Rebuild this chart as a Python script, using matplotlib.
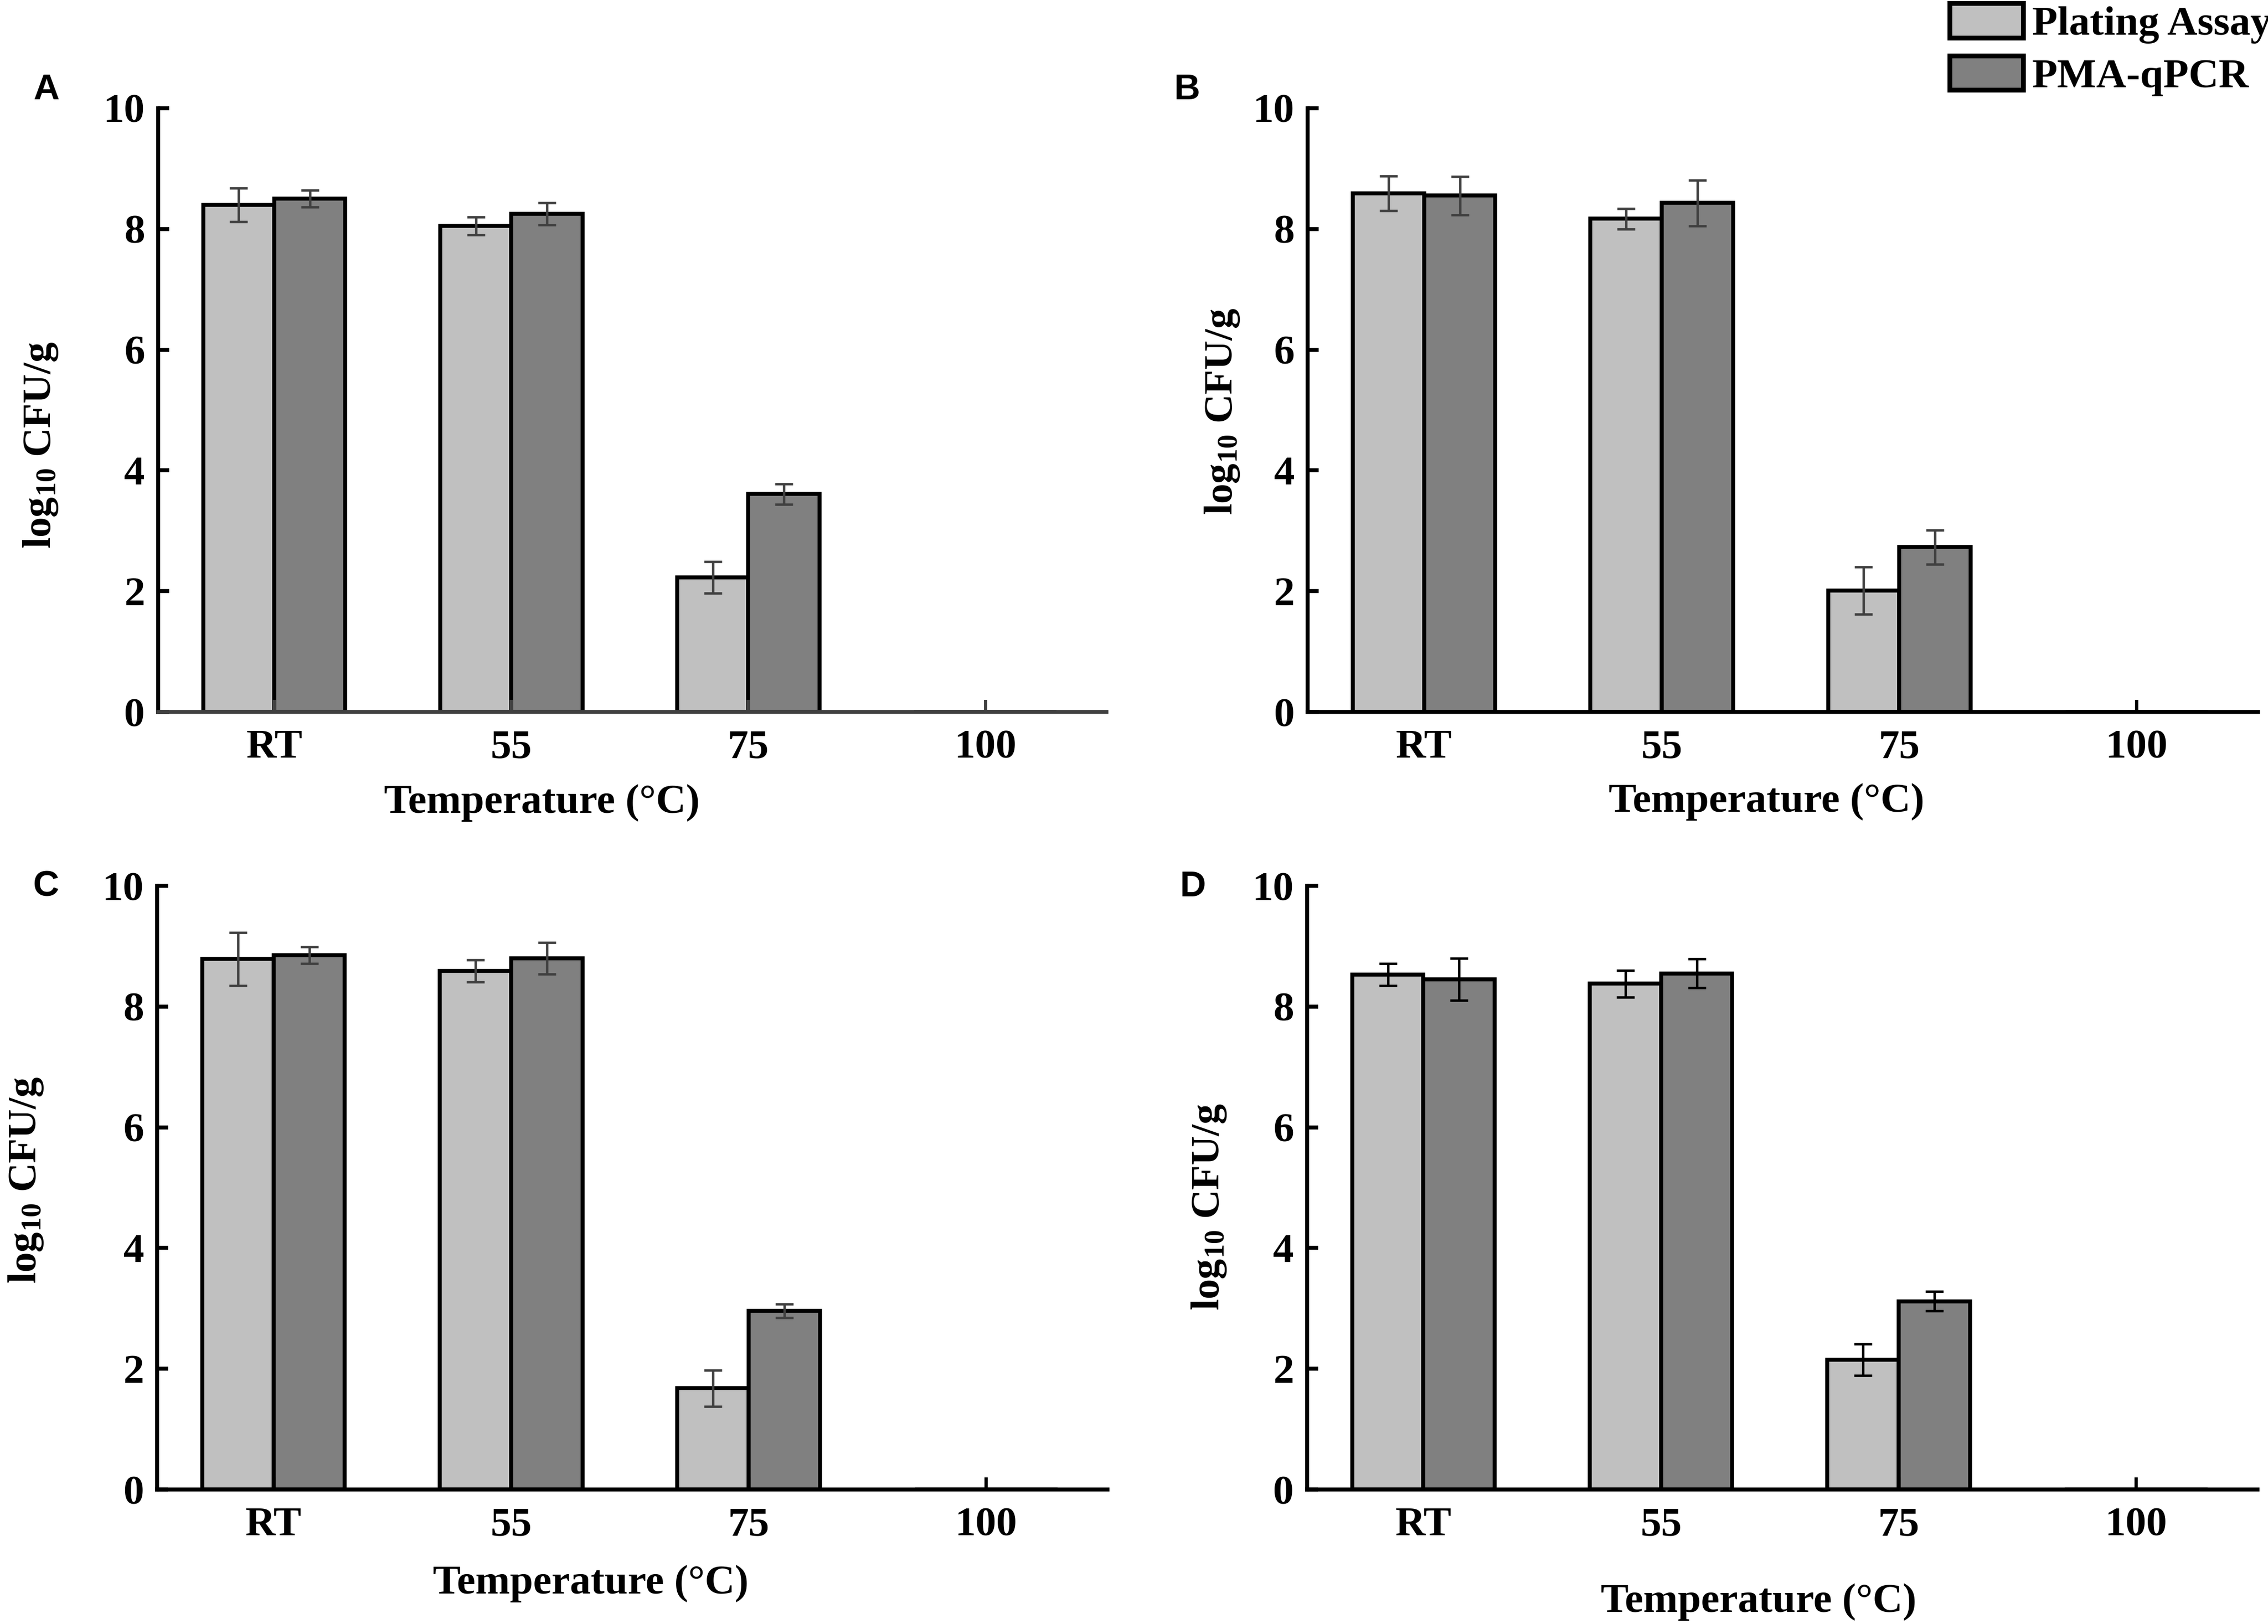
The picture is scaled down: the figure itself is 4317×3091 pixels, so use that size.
import matplotlib
matplotlib.use("Agg")
import matplotlib.pyplot as plt
from matplotlib.patches import Patch
import numpy as np

# categories and series (log10 CFU/g)
temps = ["RT", "55", "75", "100"]

plating_a = [8.40, 8.05, 2.23, 0.0]
plating_a_err = [0.28, 0.15, 0.26, 0.0]
pma_a = [8.50, 8.25, 3.61, 0.0]
pma_a_err = [0.14, 0.18, 0.17, 0.0]

plating_b = [8.59, 8.17, 2.01, 0.0]
plating_b_err = [0.29, 0.17, 0.39, 0.0]
pma_b = [8.55, 8.43, 2.73, 0.0]
pma_b_err = [0.32, 0.38, 0.28, 0.0]

plating_c = [8.79, 8.59, 1.68, 0.0]
plating_c_err = [0.44, 0.18, 0.30, 0.0]
pma_c = [8.85, 8.80, 2.96, 0.0]
pma_c_err = [0.14, 0.26, 0.11, 0.0]

plating_d = [8.53, 8.38, 2.15, 0.0]
plating_d_err = [0.18, 0.22, 0.26, 0.0]
pma_d = [8.45, 8.55, 3.12, 0.0]
pma_d_err = [0.35, 0.24, 0.16, 0.0]

yticks = [0, 2, 4, 6, 8, 10]
series_names = ["Plating Assay", "PMA-qPCR"]

light = "#c0c0c0"
dark = "#808080"
serif = ["Liberation Serif", "DejaVu Serif"]

plt.rcParams["mathtext.fontset"] = "custom"
plt.rcParams["mathtext.rm"] = "Liberation Serif:bold"
plt.rcParams["mathtext.it"] = "Liberation Serif:bold"
plt.rcParams["mathtext.bf"] = "Liberation Serif:bold"

fig = plt.figure(figsize=(4317 / 300, 3091 / 300), dpi=300)

# panel: (rect, data, err colour, x spine colour, xlabel pos, ylabel pos, letter pos)
panels = [
    ([0.0697, 0.5616, 0.4181, 0.3718], plating_a, plating_a_err, pma_a, pma_a_err,
     "#404040", "#404040", (0.405, -0.151), (-0.124, 0.442), ("A", 0.0204, 0.9447)),
    ([0.5766, 0.5616, 0.4190, 0.3718], plating_b, plating_b_err, pma_b, pma_b_err,
     "#404040", "black", (0.483, -0.149), (-0.090, 0.498), ("B", 0.5233, 0.9447)),
    ([0.0693, 0.0828, 0.4190, 0.3717], plating_c, plating_c_err, pma_c, pma_c_err,
     "#404040", "black", (0.456, -0.156), (-0.138, 0.513), ("C", 0.0202, 0.4539)),
    ([0.5763, 0.0828, 0.4190, 0.3717], plating_d, plating_d_err, pma_d, pma_d_err,
     "black", "black", (0.475, -0.186), (-0.103, 0.468), ("D", 0.5258, 0.4539)),
]

x = np.arange(len(temps))
w = 0.30

for rect, p, pe, q, qe, ecol, scol, xl, yl, letter in panels:
    ax = fig.add_axes(rect)
    ekw = dict(ecolor=ecol, elinewidth=1.1, capsize=4, capthick=1.1)
    ax.bar(x - w / 2, p, w, yerr=pe, color=light, edgecolor="black",
           linewidth=1.8, error_kw=ekw)
    ax.bar(x + w / 2, q, w, yerr=qe, color=dark, edgecolor="black",
           linewidth=1.8, error_kw=ekw)
    ax.set_xlim(-0.49, 3.51)
    ax.set_ylim(0, 10)
    ax.set_yticks(yticks)
    ax.set_xticks(x)
    ax.set_xticklabels(temps)
    for s in ["top", "right"]:
        ax.spines[s].set_visible(False)
    ax.spines["left"].set_linewidth(1.8)
    ax.spines["bottom"].set_linewidth(1.8)
    ax.spines["bottom"].set_color(scol)
    ax.tick_params(axis="y", direction="in", length=5, width=1.8, pad=6)
    ax.tick_params(axis="x", direction="in", length=5.5, width=1.5, pad=8,
                   color=scol)
    for lab in ax.get_xticklabels() + ax.get_yticklabels():
        lab.set_fontfamily(serif)
        lab.set_fontweight("bold")
        lab.set_fontsize(19)
    ax.text(xl[0], xl[1], "Temperature (°C)", transform=ax.transAxes,
            ha="center", va="center", fontsize=19, fontweight="bold",
            family=serif)
    ax.text(yl[0], yl[1], r"log$_{10}$ CFU/g", transform=ax.transAxes,
            ha="center", va="center", rotation=90, fontsize=18.5,
            fontweight="bold", family=serif)
    fig.text(letter[1], letter[2], letter[0], ha="center", va="center",
             fontsize=16.5, fontweight="bold", family="Liberation Sans")

handles = [Patch(facecolor=light, edgecolor="black", linewidth=2.2),
           Patch(facecolor=dark, edgecolor="black", linewidth=2.2)]
fig.legend(handles, series_names, loc="upper left",
           bbox_to_anchor=(3711 / 4317, 0.998), frameon=False,
           prop={"family": serif, "weight": "bold", "size": 19},
           handlelength=1.77, handleheight=0.9, handletextpad=0.21,
           labelspacing=0.28, borderpad=0, borderaxespad=0)

fig.savefig("out.png", dpi=300)
